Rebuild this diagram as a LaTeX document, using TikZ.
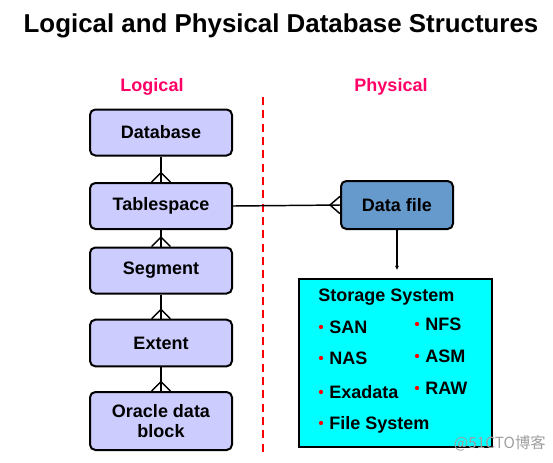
\documentclass[tikz,border=0pt]{standalone}
\usepackage{fontspec}
\setmainfont{Liberation Sans}
\newfontfamily\cjkfont{Noto Sans CJK SC}
\usetikzlibrary{arrows.meta}
\definecolor{lavbox}{RGB}{204,204,255}
\definecolor{dfblue}{RGB}{102,153,204}
\definecolor{pinkred}{RGB}{255,0,102}
\definecolor{aqua}{RGB}{0,255,255}
\tikzset{
  logbox/.style={draw=black, line width=1.5pt, rounded corners=4pt, fill=lavbox,
    minimum width=106.5pt, font=\fontsize{13.5}{15}\selectfont\bfseries, align=center, inner sep=0pt},
  conn/.style={line width=1.1pt, black},
  crow/.style={line width=1.1pt, black},
  sttext/.style={anchor=base west, font=\fontsize{13.5}{15}\selectfont\bfseries, inner sep=0pt},
  bul/.style={fill=red},
  hdr/.style={font=\fontsize{13.5}{15}\selectfont\bfseries, text=pinkred, anchor=base, inner sep=0pt}
}
\begin{document}
\begin{tikzpicture}[x=0.75pt,y=-0.75pt]
\useasboundingbox (0,0) rectangle (553,462);
\node[anchor=base, inner sep=0pt, font=\fontsize{19.4}{21}\selectfont\bfseries] (title) at (281,32) {Logical and Physical Database Structures};
\node[hdr] (lg) at (152,91) {Logical};
\node[hdr] (ph) at (391,91) {Physical};
\coordinate (dtop) at (263,97);
\coordinate (dbot) at (263,456);
\draw[red, line width=1.5pt, dash pattern=on 6pt off 4pt] (dtop) -- (dbot);

\node[logbox, minimum height=34.5pt] (db) at (161,132.5) {Database};
\node[logbox, minimum height=34.5pt] (ts) at (161,206) {Tablespace};
\node[logbox, minimum height=34.5pt] (sg) at (161,270.5) {Segment};
\node[logbox, minimum height=35pt] (ex) at (161,343) {Extent};
\node[logbox, minimum height=43.5pt] (ob) at (161,421) {Oracle data\\block};
\node[draw=black, line width=1.5pt, rounded corners=4pt, fill=dfblue, minimum width=84pt, minimum height=36pt,
  font=\fontsize{13.5}{15}\selectfont\bfseries, inner sep=0pt] (df) at (397,205) {Data file};
\node[draw=black, line width=1.1pt, fill=aqua, minimum width=144.75pt, minimum height=126pt, inner sep=0pt] (st) at (395.5,363) {};

% connectors with crow's feet
\foreach \a/\b in {db/ts, ts/sg, sg/ex, ex/ob}{
  \draw[conn] (\a.south) -- (\b.north);
  \draw[crow] ([xshift=-7pt]\b.north) -- ([yshift=7pt]\b.north) -- ([xshift=7pt]\b.north);
}
\draw[conn] (ts.east) -- (df.west);
\draw[crow] ([yshift=6.5pt]df.west) -- ([xshift=-7.5pt]df.west) -- ([yshift=-6.5pt]df.west);
\draw[conn, -{Stealth[length=3pt,width=3pt]}, shorten >=6.5pt] (df.south) -- (df.south |- st.north);

% storage text
\node[sttext] (sst) at (318,301) {Storage System};
\node[sttext] (san) at (329,333) {SAN};
\node[sttext] (nas) at (329,364) {NAS};
\node[sttext] (exa) at (329,398) {Exadata};
\node[sttext] (fs) at (329,429) {File System};
\node[sttext] (nfs) at (425,330) {NFS};
\node[sttext] (asm) at (425,362) {ASM};
\node[sttext] (raw) at (425,394) {RAW};
\foreach \x/\y in {321/327, 321/358, 321/392, 321/423, 417/324, 417/356, 417/388}{
  \fill[bul] (\x,\y) circle (1.6pt);
}
\node[anchor=base east, inner sep=0pt, text=gray!75, font=\fontsize{11.5}{13}\selectfont\cjkfont] (wm) at (546,448) {@51CTO博客};
\end{tikzpicture}
\end{document}
